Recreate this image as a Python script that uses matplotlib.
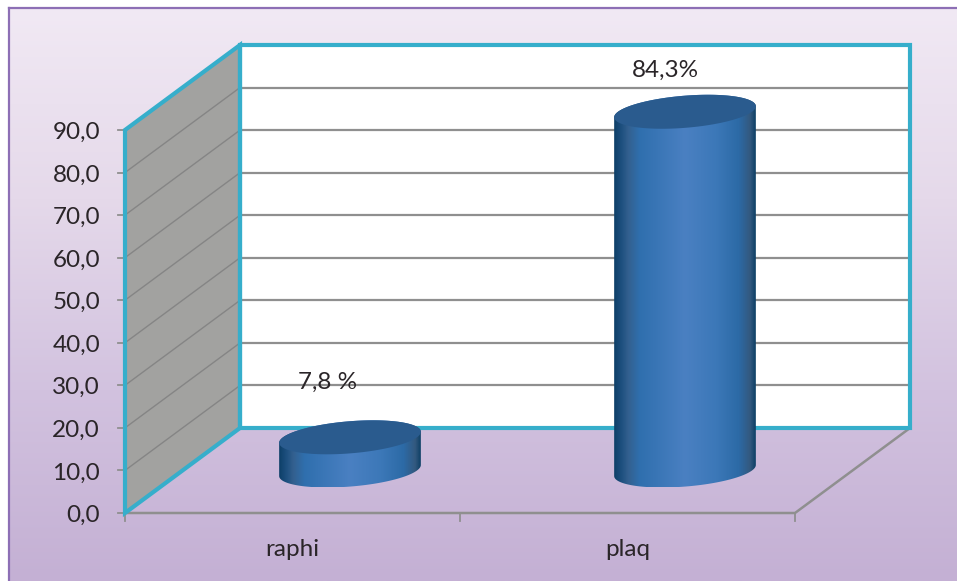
import numpy as np
import matplotlib
matplotlib.use('Agg')
import matplotlib.pyplot as plt
from matplotlib.colors import LinearSegmentedColormap
from matplotlib.patches import Polygon

categories = ['raphi', 'plaq']
values = [7.8, 84.3]
value_labels = ['7,8 %', '84,3%']
y_ticks = [0, 10, 20, 30, 40, 50, 60, 70, 80, 90]
y_labels = ['0,0', '10,0', '20,0', '30,0', '40,0', '50,0', '60,0', '70,0', '80,0', '90,0']

WIDTH, HEIGHT = 957, 581
X0_PX, X1_PX = 125, 795
Y0_PX, Y90_PX = 513, 130
PX_PER_CAT = (X1_PX - X0_PX) / len(categories)
PX_PER_VAL = (Y0_PX - Y90_PX) / 90

# oblique depth of the box, in data units
DEPTH_X = 115 / PX_PER_CAT
DEPTH_Y = 85 / PX_PER_VAL
RADIUS = 0.2

CYAN = '#36aecb'
GRID = '#8f8f8f'
TEXT = '#2a2528'
FONT = 17.5

# how far each value label sits up and left of its cap, in pixels
LABEL_LIFT = [55, 41]
LABEL_SHIFT = [22, 20]

plt.rcParams['font.family'] = ['Lato', 'DejaVu Sans']

fig = plt.figure(figsize=(WIDTH / 100, HEIGHT / 100), dpi=100, facecolor='white')
ax = fig.add_axes([0, 0, 1, 1])
ax.set_xlim(-X0_PX / PX_PER_CAT, (WIDTH - X0_PX) / PX_PER_CAT)
ax.set_ylim((Y0_PX - HEIGHT) / PX_PER_VAL, Y0_PX / PX_PER_VAL)
ax.axis('off')
x_min, x_max = ax.get_xlim()
y_min, y_max = ax.get_ylim()


def px_x(p):
    return x_min + p / PX_PER_CAT


def px_y(p):
    return y_max - p / PX_PER_VAL


def deep(x, v, d=1.0):
    return x + d * DEPTH_X, v + d * DEPTH_Y


# panel background
bg = LinearSegmentedColormap.from_list('bg', ['#f1e9f4', '#e5d9ea', '#d2c2df', '#c4b0d4'])
ax.imshow(np.linspace(0, 1, 256)[:, None], cmap=bg, aspect='auto', zorder=0,
          extent=(px_x(9), x_max, px_y(HEIGHT), px_y(8)))
ax.plot([px_x(9), px_x(9)], [px_y(HEIGHT), px_y(8)], color='#8d6fb5', lw=1.6, zorder=1)
ax.plot([px_x(9), x_max], [px_y(8), px_y(8)], color='#8d6fb5', lw=1.6, zorder=1)

n = len(categories)
top = y_ticks[-1]

# back wall
back = [deep(0, 0), deep(n, 0), deep(n, top), deep(0, top)]
ax.add_patch(Polygon(back, closed=True, fc='white', ec='none', zorder=2))
# side wall
side = [(0, 0), deep(0, 0), deep(0, top), (0, top)]
ax.add_patch(Polygon(side, closed=True, fc='#a2a2a0', ec='none', zorder=2))

# gridlines run along the side wall and across the back wall
for v in y_ticks[1:-1]:
    bx, by = deep(0, v)
    rx, ry = deep(n, v)
    ax.plot([0, bx], [v, by], color='#858585', lw=1.0, zorder=3)
    ax.plot([bx, rx], [by, ry], color=GRID, lw=1.6, zorder=3)

# wall outlines
ax.add_patch(Polygon(back, closed=True, fc='none', ec=CYAN, lw=3, zorder=4, joinstyle='miter'))
ax.add_patch(Polygon(side, closed=True, fc='none', ec=CYAN, lw=3, zorder=4, joinstyle='miter'))

# floor edges and axis ticks
fx, fy = deep(n, 0)
ax.plot([0, n, fx], [0, 0, fy], color=GRID, lw=1.8, zorder=3)
for i in range(n + 1):
    ax.plot([i, i], [0, -8 / PX_PER_VAL], color=GRID, lw=1.3, zorder=3)
for v, lab in zip(y_ticks, y_labels):
    ax.plot([-7 / PX_PER_CAT, 0], [v, v], color=GRID, lw=1.3, zorder=3)
    ax.text(-25 / PX_PER_CAT, v - 2.5 / PX_PER_VAL, lab, ha='right', va='center',
            fontsize=FONT, color=TEXT, zorder=6)

for i, lab in enumerate(categories):
    ax.text(i + 0.5, -(550 - Y0_PX) / PX_PER_VAL, lab, ha='center', va='center',
            fontsize=FONT, color=TEXT, zorder=6)

# cylinders
side_cmap = LinearSegmentedColormap.from_list('side', [
    (0.0, '#0d3f68'), (0.05, '#1d4f7e'), (0.1, '#33608f'), (0.18, '#2f6fae'), (0.5, '#4a80c2'),
    (0.72, '#3c78b8'), (0.88, '#2c6aa6'), (0.96, '#33597f'), (1.0, '#0e4066')])

t_edge = np.arctan2(RADIUS * DEPTH_X, RADIUS)


def ring(x, v, t):
    cx, cy = deep(x + 0.5, v, 0.5)
    return (cx + RADIUS * np.cos(t) + RADIUS * DEPTH_X * np.sin(t),
            cy + RADIUS * DEPTH_Y * np.sin(t))


for i, val in enumerate(values):
    lower = np.linspace(t_edge - np.pi, t_edge, 80)
    upper = np.linspace(t_edge, t_edge + np.pi, 80)
    bx, by = ring(i, 0, lower)
    ux, uy = ring(i, val, upper)
    outline = np.column_stack([np.r_[bx, ux], np.r_[by, uy]])
    body = Polygon(outline, closed=True, fc='none', ec='none')
    ax.add_patch(body)
    im = ax.imshow(np.linspace(0, 1, 256)[None, :], cmap=side_cmap, aspect='auto', zorder=5,
                   extent=(outline[:, 0].min(), outline[:, 0].max(), outline[:, 1].min(), outline[:, 1].max()))
    im.set_clip_path(body)
    cap_x, cap_y = ring(i, val, np.linspace(0, 2 * np.pi, 160))
    ax.fill(cap_x, cap_y, color='#2a5b8e', lw=0, zorder=5.5)
    cx, cy = deep(i + 0.5, val, 0.5)
    ax.text(cx - LABEL_SHIFT[i] / PX_PER_CAT, cy + LABEL_LIFT[i] / PX_PER_VAL, value_labels[i],
            ha='center', va='center', fontsize=FONT, color=TEXT, zorder=6)

ax.set_xlim(x_min, x_max)
ax.set_ylim(y_min, y_max)
fig.savefig('out.png', dpi=100)
